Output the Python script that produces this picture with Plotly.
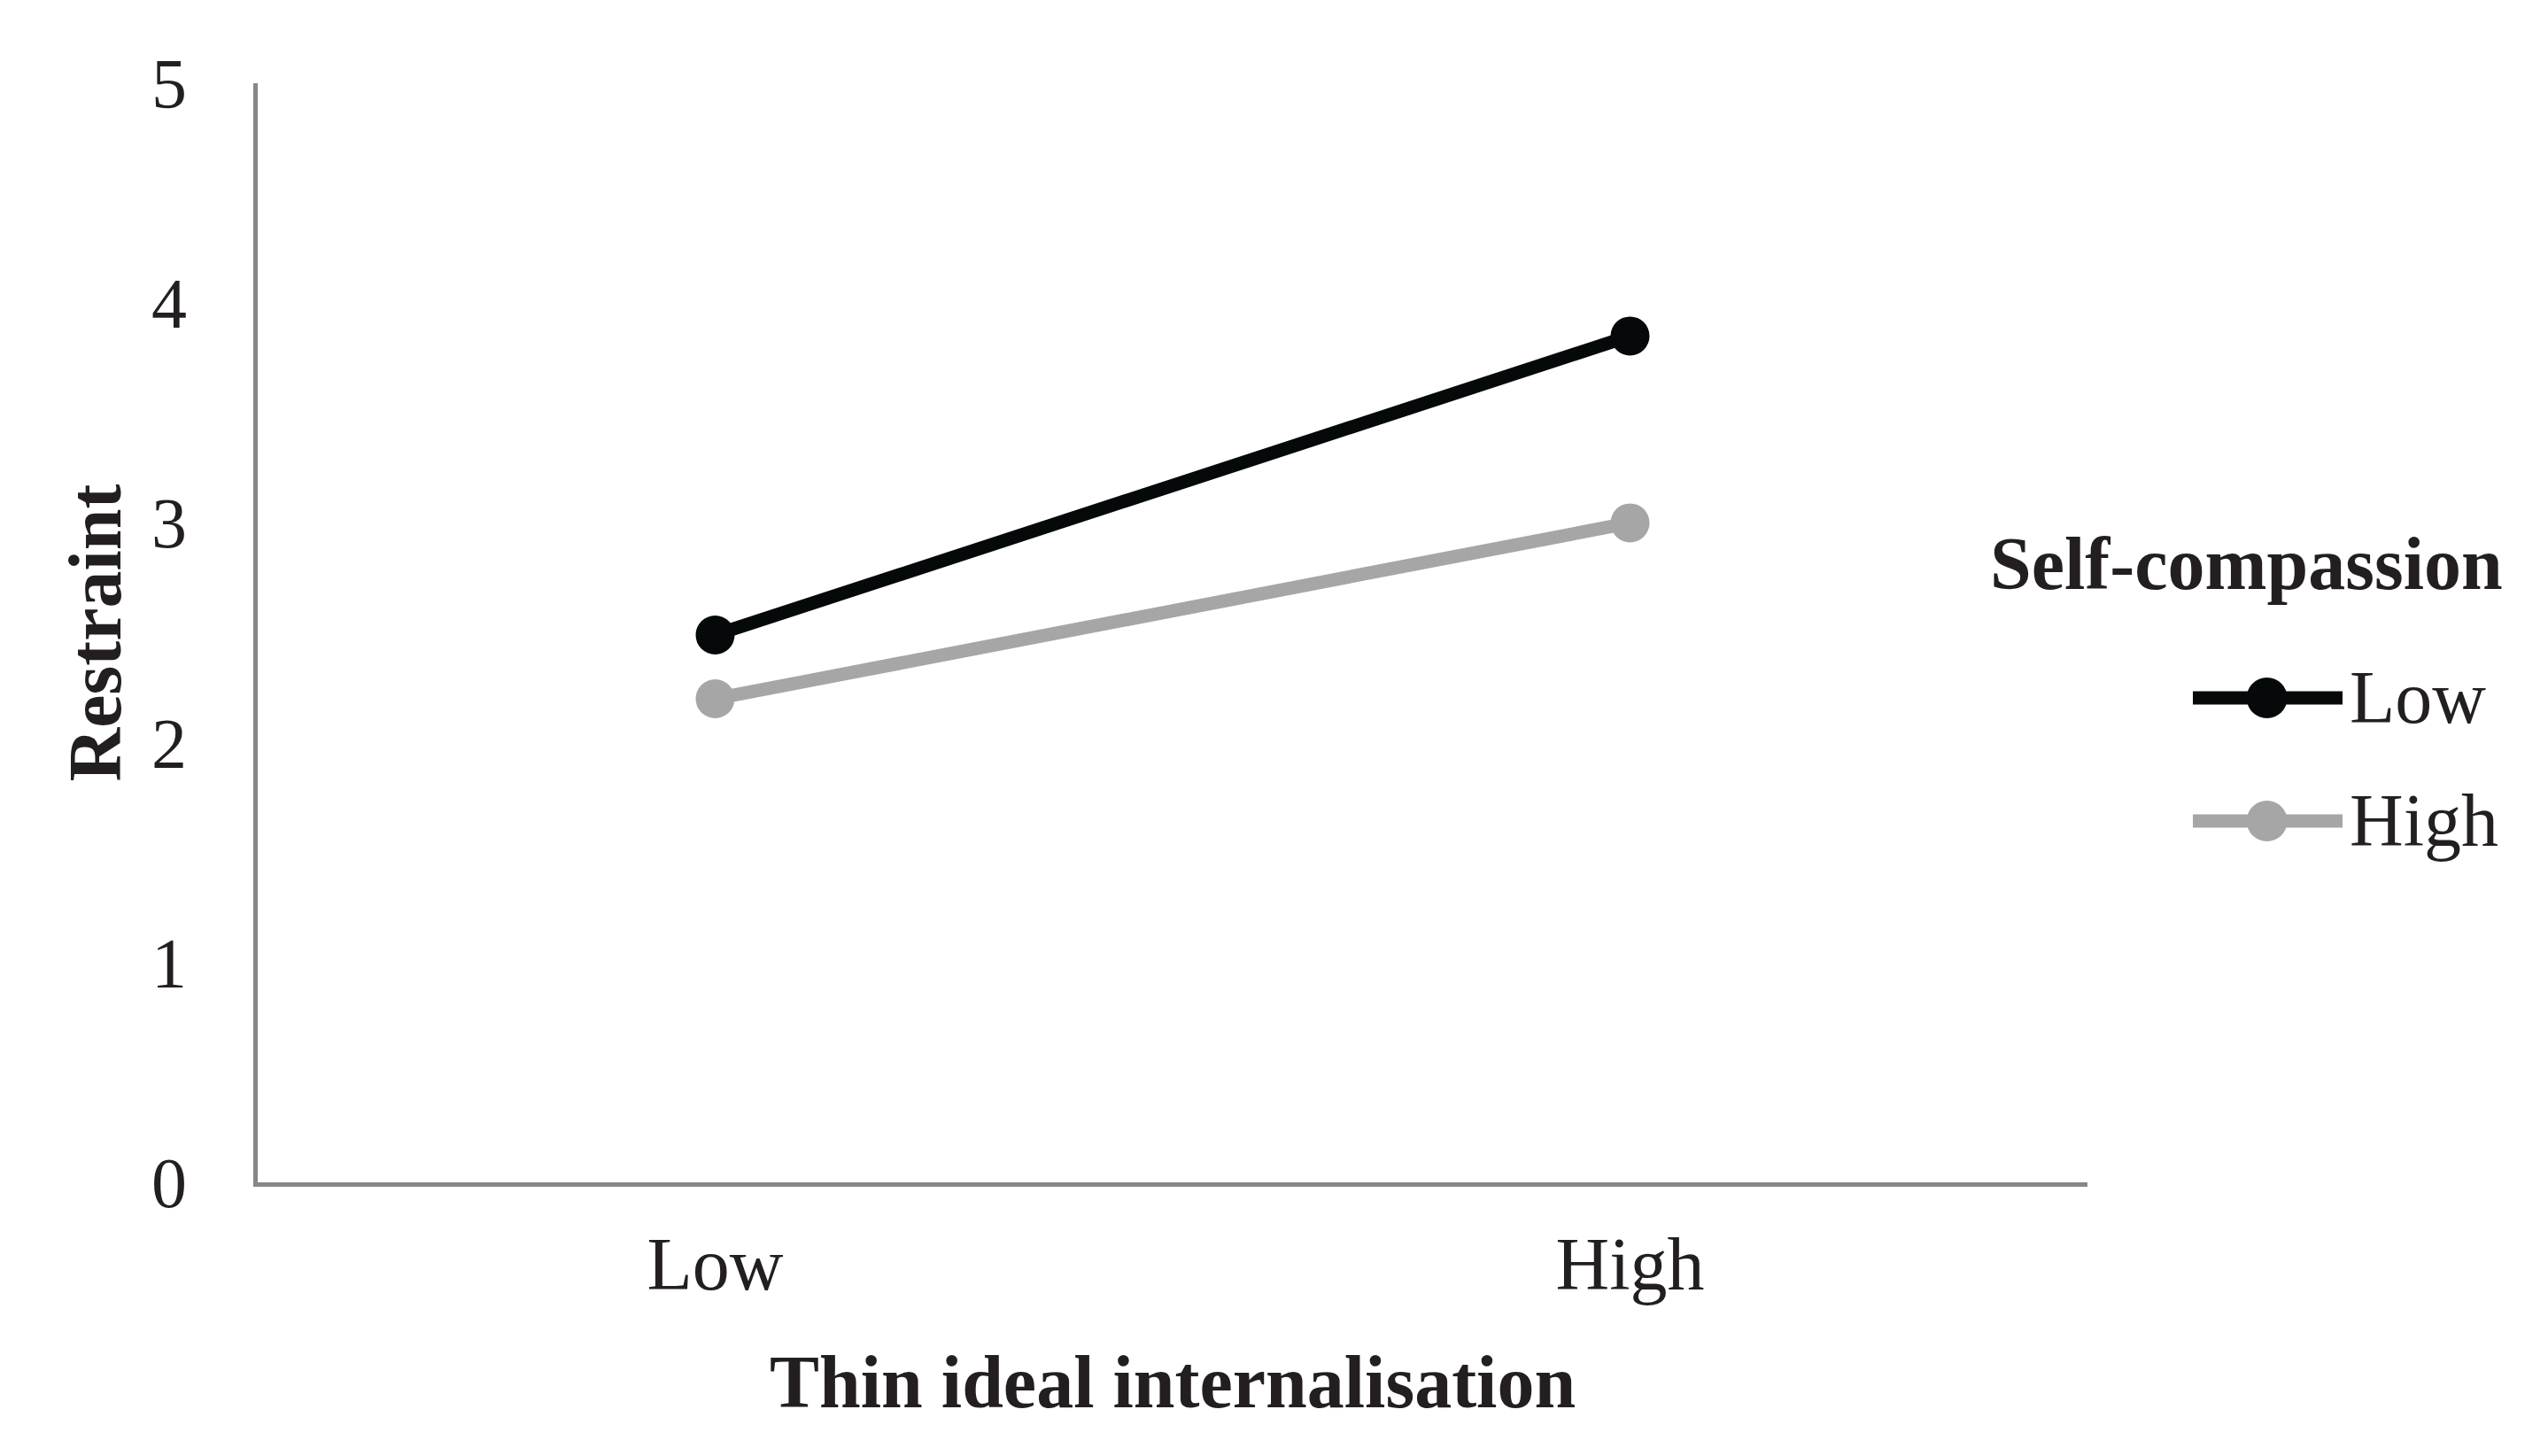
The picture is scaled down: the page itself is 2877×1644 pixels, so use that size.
import plotly.graph_objects as go

# Data
thin_ideal = ["Low", "High"]
restraint_low_sc = [2.49, 3.85]
restraint_high_sc = [2.2, 3.0]
series_names = ["Low", "High"]
series_colors = ["#050909", "#a6a6a6"]
y_ticks = [0, 1, 2, 3, 4, 5]

FONT = "Liberation Serif, Times New Roman, serif"

fig = go.Figure()
for name, vals, col in zip(series_names, [restraint_low_sc, restraint_high_sc], series_colors):
    fig.add_trace(go.Scatter(
        x=thin_ideal, y=vals, name=name, mode="lines+markers",
        line=dict(color=col, width=15),
        marker=dict(color=col, size=44),
        showlegend=False,
    ))

# Custom legend (paper coordinates, right of the plot)
legend_y = [0.4408, 0.3288]
shapes = []
annotations = []
for name, col, ly in zip(series_names, series_colors, legend_y):
    shapes.append(dict(type="line", xref="paper", yref="paper",
                       x0=1.0576, x1=1.1394, y0=ly, y1=ly,
                       line=dict(color=col, width=15)))
    shapes.append(dict(type="circle", xref="paper", yref="paper",
                       xsizemode="pixel", ysizemode="pixel",
                       xanchor=1.0981, yanchor=ly,
                       x0=-23, x1=23, y0=-23, y1=23,
                       fillcolor=col, line=dict(width=0)))
    annotations.append(dict(text=name, xref="paper", yref="paper",
                            x=1.1423, y=ly, xanchor="left", yanchor="middle",
                            showarrow=False, font=dict(size=84, color="#231f20", family=FONT)))

annotations.append(dict(text="<b>Self-compassion</b>", xref="paper", yref="paper",
                        x=0.9458, y=0.563, xanchor="left", yanchor="middle",
                        showarrow=False, font=dict(size=84, color="#231f20", family=FONT)))
annotations.append(dict(text="<b>Thin ideal internalisation</b>", xref="paper", yref="paper",
                        x=0.5, y=-0.182, xanchor="center", yanchor="middle",
                        showarrow=False, font=dict(size=84, color="#231f20", family=FONT)))
annotations.append(dict(text="<b>Restraint</b>", xref="paper", yref="paper",
                        x=-0.0886, y=0.5, xanchor="center", yanchor="middle", textangle=-90,
                        showarrow=False, font=dict(size=84, color="#231f20", family=FONT)))

fig.update_layout(
    width=2877, height=1644,
    margin=dict(l=283, r=528, t=86, b=317),
    plot_bgcolor="white", paper_bgcolor="white",
    font=dict(family=FONT, size=80, color="#231f20"),
    shapes=shapes, annotations=annotations,
)
fig.update_xaxes(
    type="category", range=[-0.5, 1.5],
    showline=True, linecolor="#878787", linewidth=5,
    showgrid=False, zeroline=False,
    ticks="outside", ticklen=15, tickcolor="rgba(0,0,0,0)",
    tickfont=dict(size=84, family=FONT),
)
fig.update_yaxes(
    range=[0, 5], tickvals=y_ticks,
    showline=True, linecolor="#878787", linewidth=5,
    showgrid=False, zeroline=False,
    ticks="outside", ticklen=59, tickcolor="rgba(0,0,0,0)",
    tickfont=dict(size=80, family=FONT),
)

fig.write_html("out.html")
